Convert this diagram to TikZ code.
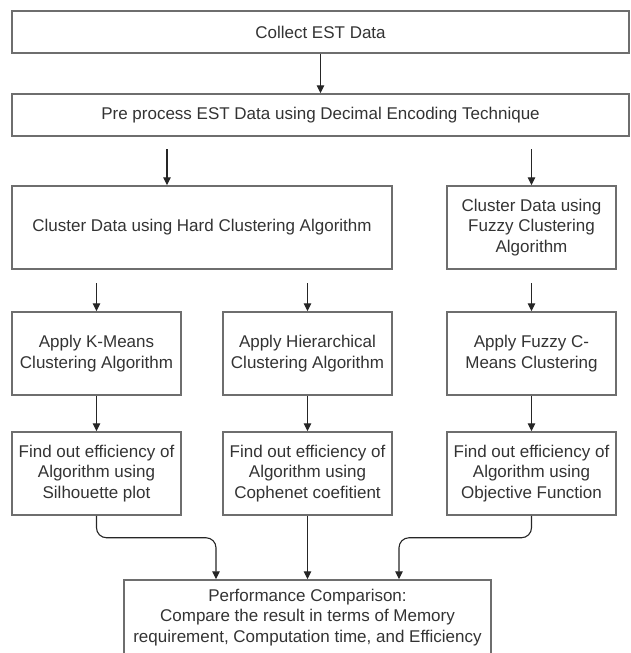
\documentclass[tikz,border=0pt]{standalone}
\usepackage{fontspec}
\setmainfont{Liberation Sans}
\usetikzlibrary{arrows.meta}
\definecolor{boxgray}{HTML}{6E6E6E}
\definecolor{txtgray}{HTML}{333333}
\tikzset{
  blk/.style={draw=boxgray, line width=1.5pt, rectangle, align=center,
    inner sep=0pt, text=txtgray, font=\fontsize{17}{20.5}\selectfont},
  wide/.style={blk, minimum width=617pt, minimum height=42pt},
  tall/.style={blk, minimum width=169pt, minimum height=83pt},
  arr/.style={-{Triangle[length=8pt,width=7.5pt]}, line width=1.1pt, draw=black!85}
}
\begin{document}
\begin{tikzpicture}[x=1pt,y=-1pt]
  \useasboundingbox (0,0) rectangle (630,653);
  % top row
  \node[wide] (collect) at (320.5,32) {Collect EST Data};
  \node[wide] (prep) at (320.5,115) {Pre process EST Data using Decimal Encoding Technique};
  % clustering
  \node[blk, minimum width=380pt, minimum height=83pt] (hard) at (202,227.5)
    {Cluster Data using Hard Clustering Algorithm};
  \node[tall] (fuzzy) at (531.5,227.5) {Cluster Data using\\Fuzzy Clustering\\Algorithm};
  % algorithms
  \node[tall] (kmeans) at (96.5,353.5) {Apply K-Means\\Clustering Algorithm};
  \node[tall] (hier) at (307.5,353.5) {Apply Hierarchical\\Clustering Algorithm};
  \node[tall] (fcm) at (531.5,353.5) {Apply Fuzzy C-\\Means Clustering};
  % efficiency
  \node[tall] (sil) at (96.5,473.5) {Find out efficiency of\\Algorithm using\\Silhouette plot};
  \node[tall] (coph) at (307.5,473.5) {Find out efficiency of\\Algorithm using\\Cophenet coefitient};
  \node[tall] (obj) at (531.5,473.5) {Find out efficiency of\\Algorithm using\\Objective Function};
  % comparison
  \node[blk, minimum width=367pt, minimum height=75pt] (perf) at (307.5,617.5)
    {Performance Comparison:\\Compare the result in terms of Memory\\requirement, Computation time, and Efficiency};
  % free arrow starts
  \coordinate (p1) at (167,149);
  \coordinate (p2) at (531.5,149);
  \coordinate (h1) at (96.5,283);
  \coordinate (h2) at (307.5,283);
  \coordinate (h3) at (531.5,283);
  \begin{scope}[arr]
    \draw (collect) -- (prep);
    \draw (p1) -- (p1 |- hard.north);
    \draw (p2) -- (fuzzy.north);
    \draw (h1) -- (kmeans.north);
    \draw (h2) -- (hier.north);
    \draw (h3) -- (fcm.north);
    \draw (kmeans) -- (sil);
    \draw (hier) -- (coph);
    \draw (fcm) -- (obj);
    \draw (coph) -- (perf);
    \draw[rounded corners=10pt] (sil.south) -- ++(0,22) -| ([xshift=-91.5pt]perf.north);
    \draw[rounded corners=10pt] (obj.south) -- ++(0,22) -| ([xshift=91.5pt]perf.north);
  \end{scope}
\end{tikzpicture}
\end{document}
